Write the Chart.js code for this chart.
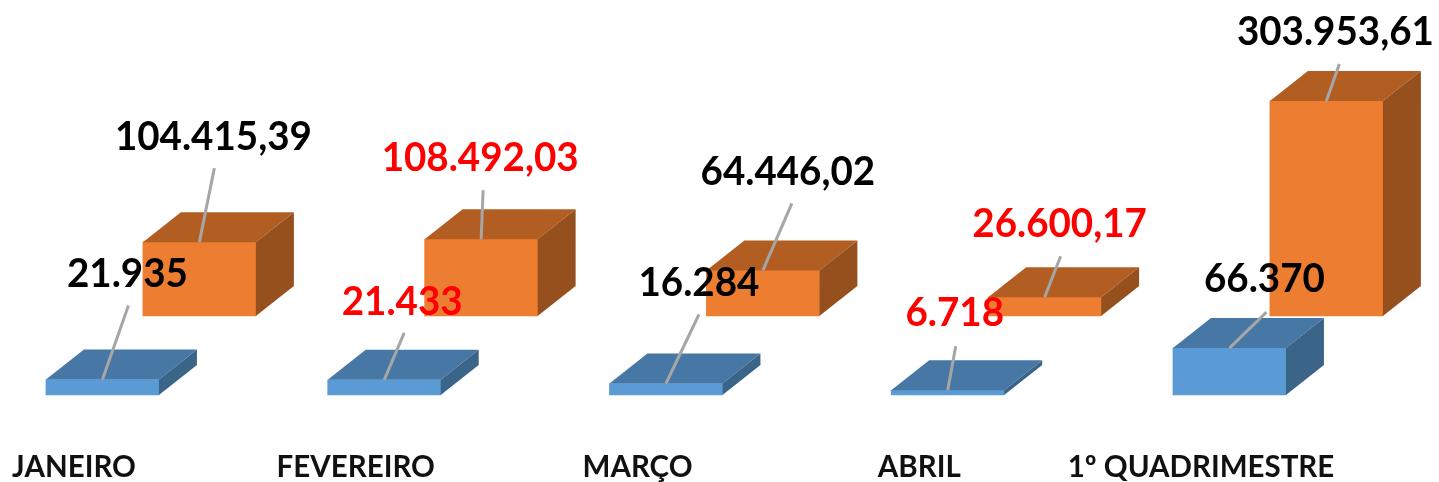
<!DOCTYPE html>
<html lang="pt">
<head>
<meta charset="utf-8">
<style>
html,body{margin:0;padding:0;background:#fff}
canvas{display:block;filter:blur(0.6px)}
</style>
<script src="https://cdn.jsdelivr.net/npm/chart.js@4/dist/chart.umd.min.js"></script>
</head>
<body>
<canvas id="c" width="1439" height="482"></canvas>
<script>
const categories = ['JANEIRO', 'FEVEREIRO', 'MARÇO', 'ABRIL', '1º QUADRIMESTRE'];
const blueValues = [21935, 21433, 16284, 6718, 66370];
const orangeValues = [104415.39, 108492.03, 64446.02, 26600.17, 303953.61];
const blueText = ['21.935', '21.433', '16.284', '6.718', '66.370'];
const orangeText = ['104.415,39', '108.492,03', '64.446,02', '26.600,17', '303.953,61'];
const blueTextColors = ['#000000', '#ff0000', '#000000', '#ff0000', '#000000'];
const orangeTextColors = ['#000000', '#ff0000', '#000000', '#ff0000', '#000000'];

// Label layout (offsets from the top middle of each bar's front face)
const blueLeaderEnd = [[26,-74],[20,-47],[33,-69],[8,-44],[37,-36]];
const orangeLeaderEnd = [[15,-74],[2,-49],[29,-67],[16,-41],[13,-37]];
const blueLabelAt = [[25,-106],[18,-78],[33,-101],[7,-77],[35,-69]];
const orangeLabelAt = [[14,-105],[-1,-81],[25,-98.5],[15,-73],[9,-69]];

const FACE = {
  blue: {top:'#4677A5', side:'#3B6489'},
  orange: {top:'#B25E23', side:'#95501E'}
};
const DEPTH_X = 38, DEPTH_Y = -30;

function poly(ctx, pts, fill){
  ctx.beginPath();
  pts.forEach((p,i)=> i ? ctx.lineTo(p[0],p[1]) : ctx.moveTo(p[0],p[1]));
  ctx.closePath();
  ctx.fillStyle = fill;
  ctx.fill();
}

const box3d = {
  id: 'box3d',
  afterDatasetDraw(chart, args){
    const ctx = chart.ctx;
    const ds = chart.data.datasets[args.index];
    const face = FACE[ds.faceKey];
    chart.getDatasetMeta(args.index).data.forEach(bar => {
      const l = bar.x - bar.width/2, r = bar.x + bar.width/2, t = bar.y, b = bar.base;
      poly(ctx, [[l,t],[r,t],[r+DEPTH_X,t+DEPTH_Y],[l+DEPTH_X,t+DEPTH_Y]], face.top);
      poly(ctx, [[r,t],[r,b],[r+DEPTH_X,b+DEPTH_Y],[r+DEPTH_X,t+DEPTH_Y]], face.side);
    });
  },
  afterDraw(chart){
    const ctx = chart.ctx;
    chart.data.datasets.forEach((ds, di) => {
      chart.getDatasetMeta(di).data.forEach((bar, i) => {
        const e = ds.leaderEnd[i];
        ctx.beginPath();
        ctx.moveTo(bar.x, bar.y);
        ctx.lineTo(bar.x + e[0], bar.y + e[1]);
        ctx.strokeStyle = '#A6A6A6';
        ctx.lineWidth = 3;
        ctx.stroke();
      });
    });
    chart.data.datasets.forEach((ds, di) => {
      chart.getDatasetMeta(di).data.forEach((bar, i) => {
        const a = ds.labelAt[i];
        ctx.save();
        ctx.translate(bar.x + a[0], bar.y + a[1]);
        ctx.scale(0.94, 1);
        ctx.font = 'bold 41px Lato';
        ctx.textAlign = 'center';
        ctx.textBaseline = 'middle';
        ctx.fillStyle = ds.labelColors[i];
        ctx.fillText(ds.labelText[i], 0, 0);
        ctx.restore();
      });
    });
  }
};

function noPad(s){ s.paddingLeft = 0; s.paddingRight = 0; s.paddingTop = 0; s.paddingBottom = 0; }

new Chart(document.getElementById('c'), {
  type: 'bar',
  plugins: [box3d],
  data: {
    labels: categories,
    datasets: [
      {
        label: 'Série 1', faceKey: 'blue', xAxisID: 'xb', yAxisID: 'yb', grouped: false,
        data: blueValues.map((v,i)=>({x:i,y:v})),
        backgroundColor: '#5B9BD5', barThickness: 113, clip: false,
        labelText: blueText, labelColors: blueTextColors, leaderEnd: blueLeaderEnd, labelAt: blueLabelAt
      },
      {
        label: 'Série 2', faceKey: 'orange', xAxisID: 'xo', yAxisID: 'yo', grouped: false,
        data: orangeValues.map((v,i)=>({x:i,y:v})),
        backgroundColor: '#ED7D31', barThickness: 113, clip: false,
        labelText: orangeText, labelColors: orangeTextColors, leaderEnd: orangeLeaderEnd, labelAt: orangeLabelAt
      }
    ]
  },
  options: {
    responsive: false,
    animation: false,
    layout: {padding: {left: 74, right: 238, top: 0, bottom: 0}},
    plugins: {legend: {display:false}, tooltip: {enabled:false}},
    scales: {
      x: {
        type: 'category', offset: false,
        grid: {display:false}, border: {display:false},
        afterFit(s){ s.height = 87; noPad(s); },
        ticks: {autoSkip:false, maxRotation:0, padding:47, color:'#111', font:{family:'Lato', weight:'bold', size:29.5}}
      },
      xb: {type:'linear', display:false, offset:false, min:-0.101, max:3.899, afterFit:noPad},
      xo: {type:'linear', display:false, offset:false, min:-0.445, max:3.555, afterFit:noPad},
      yb: {type:'linear', display:false, min:0, max:558420, afterFit:noPad},
      yo: {type:'linear', display:false, min:-111684, max:446736, afterFit:noPad}
    }
  }
});
</script>
</body>
</html>
